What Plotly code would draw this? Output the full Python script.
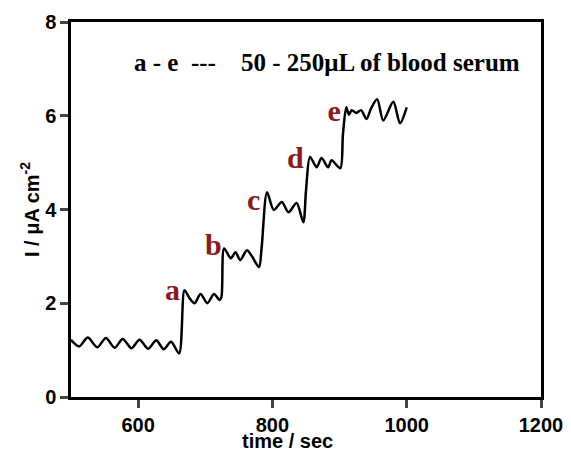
import plotly.graph_objects as go

# time (sec) and current density (uA cm^-2)
time_s = [500, 512, 525, 539, 552, 565, 577, 590, 602, 615, 627, 638, 649, 661,
          669, 676, 684, 693, 703, 713, 721,
          724, 728, 738, 745, 752, 762, 770, 780,
          784, 792, 802, 814, 824, 836, 846,
          850, 856, 866, 873, 883, 888, 901,
          905, 910, 914, 918, 925, 932, 940, 947, 956, 965, 980, 990, 1000]
current = [1.22, 1.08, 1.27, 1.06, 1.26, 1.05, 1.24, 1.04, 1.22, 1.03, 1.21, 1.02, 1.18, 0.93,
           2.28, 2.12, 2.00, 2.20, 2.00, 2.20, 2.07,
           2.13, 3.17, 2.96, 3.09, 2.92, 3.13, 2.99, 2.77,
           3.20, 4.37, 3.99, 4.16, 3.94, 4.14, 3.73,
           4.40, 5.12, 4.90, 5.10, 4.90, 5.05, 4.88,
           5.60, 6.18, 6.02, 6.12, 6.06, 6.12, 5.93, 6.16, 6.35, 5.90, 6.30, 5.84, 6.18]

step_labels = ["a", "b", "c", "d", "e"]
label_t = [651, 712, 772, 834, 892]
label_i = [2.22, 3.20, 4.14, 5.05, 6.05]

x_ticks = [600, 800, 1000, 1200]
y_ticks = [0, 2, 4, 6, 8]

fig = go.Figure()
fig.add_trace(go.Scatter(x=time_s, y=current, mode="lines",
                         line=dict(color="black", width=2.5, shape="spline", smoothing=0.8),
                         showlegend=False, hoverinfo="skip"))
fig.add_trace(go.Scatter(x=label_t, y=label_i, mode="text", text=step_labels,
                         textfont=dict(family="Liberation Serif", size=30, color="#8b1a1a", weight="bold"),
                         showlegend=False, hoverinfo="skip"))

fig.add_annotation(x=0.545, y=0.933, xref="paper", yref="paper",
                   text="a - e&nbsp;&nbsp;---&nbsp;&nbsp;&nbsp;&nbsp;50 - 250μL of blood serum",
                   showarrow=False,
                   font=dict(family="Liberation Serif", size=25, color="black", weight="bold"))

axis_font = dict(family="Liberation Sans", size=20, color="black", weight="bold")

# x-axis title as an annotation below the tick labels
fig.add_annotation(x=0.46, y=0, xref="paper", yref="paper", yanchor="middle",
                   yshift=-44, text="time / sec", showarrow=False, font=axis_font)

# the page body has an 8px margin, so the figure is sized/margined to compensate
fig.update_layout(
    width=563, height=447,
    margin=dict(l=63, r=30, t=14, b=58),
    paper_bgcolor="white", plot_bgcolor="white",
    xaxis=dict(range=[500, 1200], tickvals=x_ticks, ticks="outside", ticklen=8, tickwidth=2.5,
               showline=True, linewidth=2.5, linecolor="black", mirror=True, showgrid=False,
               zeroline=False, tickfont=axis_font, automargin=False, ticklabeloverflow="allow"),
    yaxis=dict(range=[0, 8], tickvals=y_ticks, ticks="outside", ticklen=8, tickwidth=2.5,
               showline=True, linewidth=2.5, linecolor="black", mirror=True, showgrid=False,
               zeroline=False, tickfont=axis_font, automargin=False, ticklabeloverflow="allow",
               title=dict(text="I / μA cm<sup>-2</sup>", font=axis_font, standoff=1)),
)
fig.write_html("out.html")
